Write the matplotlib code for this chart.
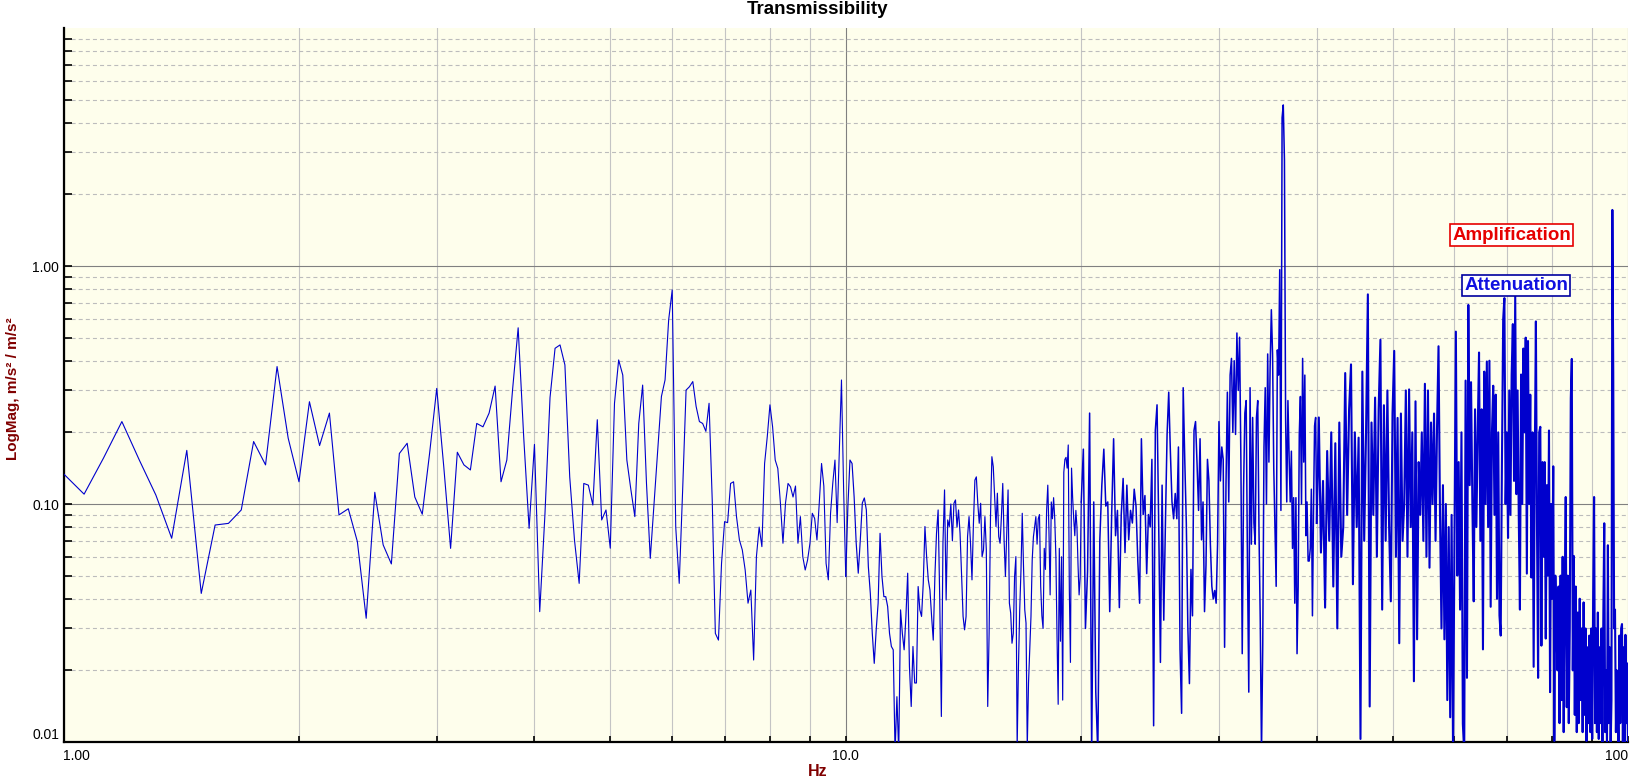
import numpy as np
import matplotlib.pyplot as plt
from matplotlib.ticker import FixedLocator, LogLocator, NullFormatter

plt.rcParams['font.family'] = ['Liberation Sans', 'DejaVu Sans']

# transmissibility magnitude
# 1.0 .. 10.0 Hz, 1/16 Hz bins
mag_1_10 = [
    0.134, 0.110, 0.156, 0.222, 0.153, 0.109, 0.0718, 0.168, 0.0421, 0.0816,
    0.0829, 0.0944, 0.183, 0.146, 0.378, 0.189, 0.124, 0.269, 0.176, 0.241,
    0.090, 0.0955, 0.0695, 0.0331, 0.112, 0.0673, 0.056, 0.163, 0.180, 0.107,
    0.0906, 0.163, 0.306, 0.144, 0.0651, 0.165, 0.146, 0.139, 0.218, 0.211,
    0.241, 0.313, 0.124, 0.153, 0.301, 0.550, 0.192, 0.079, 0.178, 0.0353,
    0.090, 0.280, 0.451, 0.466, 0.384, 0.130, 0.0706, 0.0464, 0.122, 0.120,
    0.099, 0.226, 0.0857, 0.0944, 0.0652, 0.265, 0.403, 0.348, 0.153, 0.115,
    0.0885, 0.218, 0.316, 0.122, 0.0591, 0.101, 0.169, 0.283, 0.332, 0.593,
    0.793, 0.080, 0.0464, 0.115, 0.301, 0.311, 0.327, 0.257, 0.222, 0.218,
    0.202, 0.265, 0.104, 0.0286, 0.0268, 0.0563, 0.0843, 0.0835, 0.122, 0.124,
    0.0885, 0.0706, 0.0641, 0.0528, 0.0383, 0.0435, 0.0221, 0.060, 0.080, 0.0662,
    0.148, 0.192, 0.261, 0.211, 0.153, 0.141, 0.101, 0.0684, 0.101, 0.122,
    0.118, 0.107, 0.119, 0.0684, 0.0885, 0.060, 0.0528, 0.0582, 0.0684, 0.0914,
    0.087, 0.0706, 0.101, 0.148, 0.119, 0.0563, 0.048, 0.0914, 0.122, 0.153,
    0.0835, 0.169, 0.332, 0.115, 0.0496,
]

# 10.0625 .. 20.0 Hz, 1/16 Hz bins
mag_10_20 = [
    0.0975, 0.153, 0.148, 0.107, 0.0684, 0.0512, 0.0706, 0.101,
    0.106, 0.0944, 0.0546, 0.0421, 0.0286, 0.0214, 0.0296, 0.0383,
    0.0753, 0.0496, 0.0408, 0.0408, 0.0371, 0.0286, 0.0252, 0.0244,
    0.009, 0.0155, 0.009, 0.0359, 0.0286, 0.0244, 0.0337, 0.0512,
    0.0207, 0.0141, 0.0252, 0.0177, 0.0177, 0.045, 0.0359, 0.0337,
    0.0464, 0.0804, 0.0601, 0.048, 0.0435, 0.0337, 0.0268, 0.0496,
    0.0753, 0.0944, 0.0395, 0.0128, 0.0684, 0.1146, 0.0395, 0.0857,
    0.0804, 0.100, 0.070, 0.1007, 0.104, 0.080, 0.0944, 0.0753,
    0.0496, 0.0337, 0.0296, 0.0337, 0.0729, 0.0885, 0.0684, 0.048,
    0.083, 0.126, 0.130, 0.1007, 0.083, 0.1007, 0.0601, 0.0641,
    0.0885, 0.0641, 0.0141, 0.0286, 0.0885, 0.158, 0.1435, 0.1074,
    0.0804, 0.111, 0.0729, 0.0684, 0.0885, 0.122, 0.0706, 0.0496,
    0.0753, 0.1146, 0.0383, 0.0348, 0.026, 0.0286, 0.0496, 0.0601,
    0.0095, 0.0207, 0.0359, 0.0528, 0.0914, 0.0546, 0.0359, 0.0316,
    0.0095, 0.0177, 0.0244, 0.0337, 0.0582, 0.0729, 0.0804, 0.0885,
    0.0678, 0.0867, 0.0903, 0.0451, 0.0339, 0.030, 0.0651, 0.0531,
    0.094, 0.120, 0.0767, 0.0415, 0.102, 0.0867, 0.1063, 0.0867,
    0.060, 0.0276, 0.0144, 0.0651, 0.0265, 0.060, 0.015, 0.136,
    0.154, 0.157, 0.1415, 0.177, 0.0433, 0.0216, 0.1415, 0.1063,
    0.0867, 0.0736, 0.094, 0.080, 0.0553, 0.0415, 0.0489, 0.102,
]

# 20.125 .. 40.0 Hz, 1/8 Hz steps
mag_20_40 = [
    0.170, 0.030, 0.052, 0.241, 0.009, 0.102, 0.0162, 0.009,
    0.0707, 0.120, 0.170, 0.098, 0.102, 0.0353, 0.0903, 0.188,
    0.0736, 0.094, 0.0367, 0.0903, 0.128, 0.0625, 0.120, 0.0707,
    0.094, 0.0832, 0.1154, 0.098, 0.0576, 0.0383, 0.188, 0.0903,
    0.1085, 0.051, 0.0903, 0.080, 0.154, 0.0117, 0.204, 0.261,
    0.080, 0.0216, 0.120, 0.0325, 0.0832, 0.196, 0.295, 0.1667,
    0.102, 0.0867, 0.1107, 0.0867, 0.1736, 0.0245, 0.0132, 0.308,
    0.154, 0.0832, 0.030, 0.0176, 0.0531, 0.0339, 0.204, 0.222,
    0.1474, 0.094, 0.188, 0.0707, 0.102, 0.0353, 0.0553, 0.154,
    0.125, 0.0678, 0.0451, 0.0399, 0.0433, 0.0383, 0.0678, 0.222,
    0.125, 0.1736, 0.154, 0.025, 0.120, 0.295, 0.102, 0.348,
    0.409, 0.200, 0.400, 0.196, 0.523, 0.300, 0.502, 0.150,
    0.0235, 0.1154, 0.241, 0.272, 0.0553, 0.0162, 0.308, 0.0678,
    0.231, 0.0832, 0.0678, 0.231, 0.272, 0.0767, 0.0325, 0.009,
    0.0255, 0.1736, 0.308, 0.100, 0.427, 0.150, 0.377, 0.655,
    0.427, 0.1415, 0.080, 0.0451, 0.444, 0.348, 0.965, 0.094,
    4.20, 4.75, 2.79, 0.231, 0.102, 0.272, 0.160, 0.102,
    0.1667, 0.0651, 0.1063, 0.0383, 0.1063, 0.0235, 0.0451, 0.196,
    0.283, 0.100, 0.409, 0.150, 0.348, 0.0736, 0.102, 0.0576,
    0.0576, 0.0651, 0.1154, 0.0339, 0.094, 0.213, 0.231, 0.0832,
]

# 40.25 .. 100.0 Hz, 1/4 Hz steps
mag_40_100 = [
    0.231, 0.0625, 0.125, 0.0367,  0.167, 0.070, 0.200, 0.045,
    0.180, 0.030, 0.220, 0.060,    0.080, 0.355, 0.090, 0.250,
    0.386, 0.046, 0.200, 0.080,    0.190, 0.0103, 0.360, 0.070,
    0.200, 0.760, 0.0141, 0.220,   0.090, 0.280, 0.060, 0.250,
    0.490, 0.036, 0.260, 0.070,    0.300, 0.080, 0.039, 0.240,
    0.440, 0.060, 0.230, 0.026,    0.240, 0.070, 0.100, 0.300,
    0.060, 0.303, 0.080, 0.200,    0.018, 0.270, 0.027, 0.150,
    0.090, 0.200, 0.070, 0.320,    0.060, 0.300, 0.054, 0.220,
    0.100, 0.240, 0.070, 0.210,    0.460, 0.090, 0.030, 0.120,
    0.027, 0.100, 0.015, 0.080,    0.0127, 0.090, 0.009, 0.070,
    0.530, 0.050, 0.150, 0.036,    0.200, 0.0119, 0.009, 0.330,
    0.0186, 0.686, 0.120, 0.325,   0.100, 0.039, 0.250, 0.080,
    0.200, 0.433, 0.070, 0.250,    0.0245, 0.360, 0.100, 0.397,
    0.080, 0.400, 0.037, 0.200,    0.314, 0.090, 0.288, 0.040,
    0.200, 0.034, 0.028, 0.150,    0.596, 0.733, 0.100, 0.200,
    0.072, 0.300, 0.090, 0.350,    0.570, 0.125, 0.747, 0.110,
    0.300, 0.090, 0.036, 0.350,    0.100, 0.450, 0.200, 0.500,
    0.051, 0.484, 0.100, 0.288,    0.0491, 0.200, 0.0207, 0.150,
    0.585, 0.080, 0.0186, 0.200,   0.211, 0.0254, 0.150, 0.060,
    0.150, 0.0272, 0.120, 0.050,   0.2036, 0.0162, 0.100, 0.040,
    0.144, 0.0101, 0.050, 0.030,   0.020, 0.045, 0.012, 0.050,
    0.015, 0.060, 0.011, 0.040,    0.107, 0.014, 0.050, 0.012,
    0.030, 0.278, 0.407, 0.020,    0.0605, 0.013, 0.045, 0.011,
    0.035, 0.012, 0.040, 0.015,    0.030, 0.011, 0.0386, 0.013,
    0.030, 0.0101, 0.025, 0.012,   0.028, 0.011, 0.030, 0.0103,
    0.040, 0.107, 0.012, 0.030,    0.011, 0.035, 0.0103, 0.025,
    0.012, 0.030, 0.009, 0.035,    0.083, 0.011, 0.020, 0.010,
    0.0671, 0.012, 0.025, 0.009,   0.015, 1.720, 0.360, 0.030,
    0.036, 0.011, 0.020, 0.0157,   0.009, 0.028, 0.012, 0.030,
    0.0313, 0.010, 0.025, 0.009,   0.0282, 0.012, 0.0214, 0.009,
]

# (first bin in Hz, bin width in Hz) for each band above
bands = [
    (1.0, 0.0625, mag_1_10),
    (10.0625, 0.0625, mag_10_20),
    (20.125, 0.125, mag_20_40),
    (40.25, 0.25, mag_40_100),
]
# the coarser bands stand in for denser traces, so draw them a bit heavier
band_lw = [0.8, 0.85, 1.1, 1.5]

x_ticks = [1, 10, 100]
x_tick_labels = ['1.00', '10.0', '100']
y_ticks = [0.01, 0.1, 1]
y_tick_labels = ['0.01', '0.10', '1.00']

LINE_COLOR = '#0000cd'

W, H = 1635, 784
fig = plt.figure(figsize=(W / 100, H / 100), dpi=100)
ax = fig.add_axes([63.5 / W, 42 / H, 1564.5 / W, 714 / H])
ax.set_facecolor('#fefeec')
ax.set_xscale('log')
ax.set_yscale('log')

prev = None
for (f0, df, m), lw in zip(bands, band_lw):
    f = f0 + df * np.arange(len(m))
    v = np.asarray(m, dtype=float)
    if prev is not None:
        # join to the last bin of the previous band
        f = np.concatenate([[prev[0]], f])
        v = np.concatenate([[prev[1]], v])
    ax.plot(f, v, color=LINE_COLOR, lw=lw, zorder=3)
    prev = (f[-1], v[-1])

ax.set_xlim(1, 100)
ax.set_ylim(0.01, 10)

ax.xaxis.set_major_locator(FixedLocator(x_ticks))
ax.yaxis.set_major_locator(FixedLocator(y_ticks))
ax.set_xticklabels(x_tick_labels)
ax.set_yticklabels(y_tick_labels)
for axis in (ax.xaxis, ax.yaxis):
    axis.set_minor_locator(LogLocator(base=10, subs=np.arange(2, 10), numticks=20))
    axis.set_minor_formatter(NullFormatter())

ax.set_axisbelow(True)
ax.grid(which='major', axis='both', color='#808080', lw=0.8)
ax.grid(which='minor', axis='x', color='#c4c4c4', lw=0.8)
ax.grid(which='minor', axis='y', color='#bcbcbc', lw=0.8, linestyle=(0, (3.6, 2.8)))

ax.tick_params(which='both', direction='in', color='black', width=1.2)
ax.tick_params(axis='y', which='both', length=6, labelsize=10, pad=3)
ax.tick_params(axis='x', which='both', length=4, labelsize=10, pad=5)

xt = ax.get_xticklabels()
xt[0].set_ha('left')
xt[-1].set_ha('right')
ax.get_yticklabels()[0].set_va('bottom')

for s in ['top', 'right']:
    ax.spines[s].set_visible(False)
for s in ['left', 'bottom']:
    ax.spines[s].set_linewidth(1.6)

fig.text(0.5, 1 - 9.5 / H, 'Transmissibility', ha='center', va='center',
         fontsize=13.5, fontweight='bold')
fig.text(818 / W, 1 - 771 / H, 'Hz', ha='center', va='center',
         fontsize=11.5, fontweight='bold', color='#800000')
fig.text(13 / W, 1 - 389 / H, 'LogMag, m/s² / m/s²', ha='center', va='center',
         rotation=90, fontsize=11, fontweight='bold', color='#800000')

ax.text(0.9255, 0.710, 'Amplification', transform=ax.transAxes, ha='center', va='center',
        color='#e60000', fontsize=13.5, fontweight='bold', zorder=5,
        bbox=dict(boxstyle='square,pad=0.12', fc='white', ec='#e60000', lw=1.2))
ax.text(0.9284, 0.6394, 'Attenuation', transform=ax.transAxes, ha='center', va='center',
        color='#1010e0', fontsize=13.5, fontweight='bold', zorder=5,
        bbox=dict(boxstyle='square,pad=0.12', fc='white', ec='#0000a0', lw=1.2))

fig.savefig('out.png', dpi=100)
